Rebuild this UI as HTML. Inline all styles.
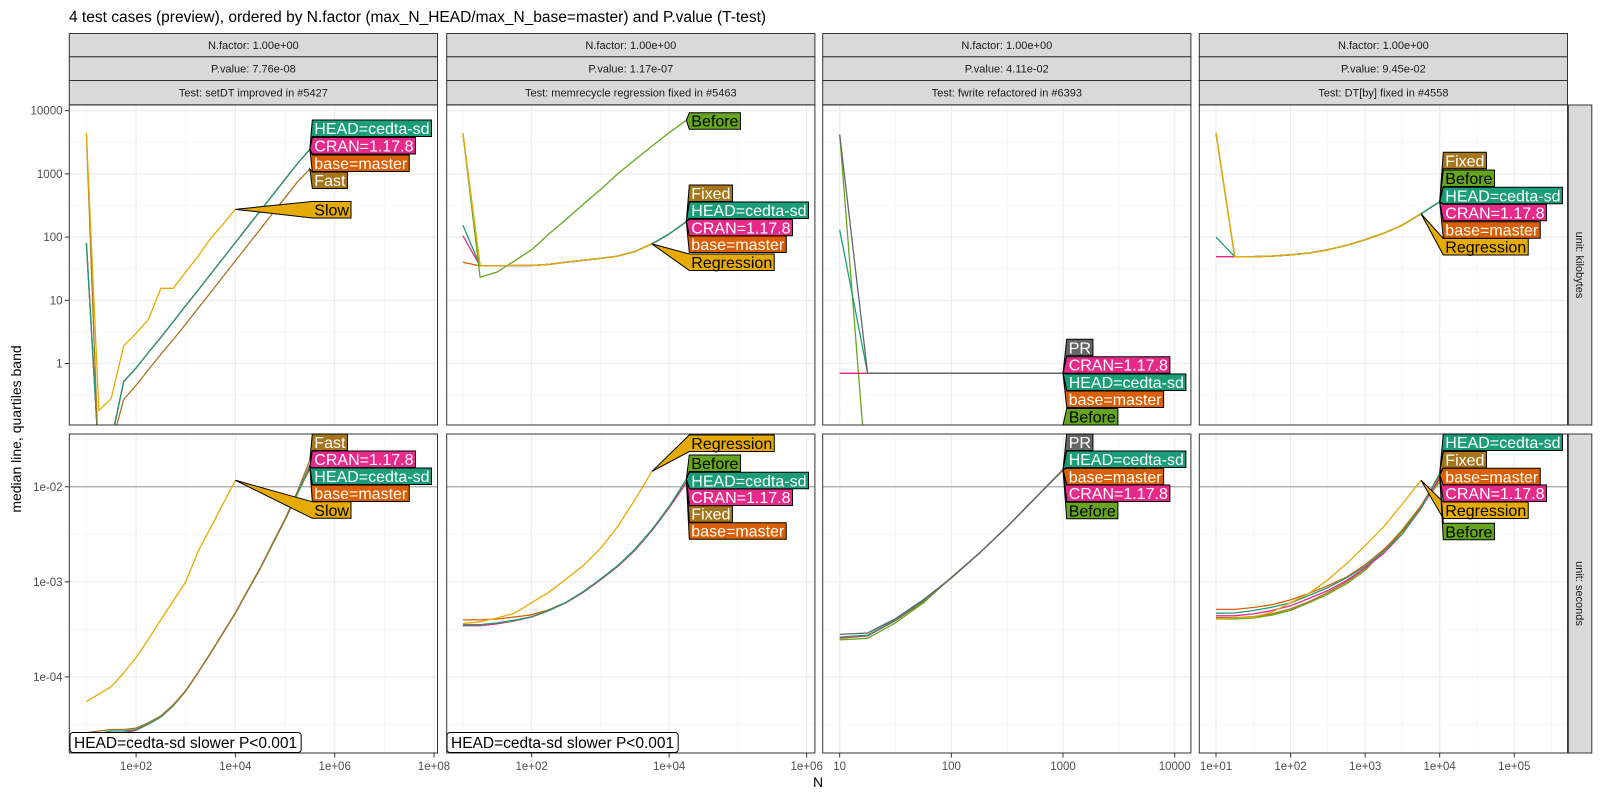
<!DOCTYPE html>
<html><head><meta charset="utf-8"><style>
html,body{margin:0;padding:0;background:#fff;}
svg{display:block;font-family:"Liberation Sans",sans-serif;}
</style></head>
<body>
<svg id="chart" width="1600" height="800" viewBox="0 0 1600 800" xmlns="http://www.w3.org/2000/svg">
<text x="69" y="22" font-size="15.5" fill="#000">4 test cases (preview), ordered by N.factor (max_N_HEAD/max_N_base=master) and P.value (T-test)</text>
<text transform="translate(21,429) rotate(-90)" text-anchor="middle" font-size="14" fill="#000">median line, quartiles band</text>
<text x="818" y="787" text-anchor="middle" font-size="14" fill="#000">N</text>
</svg>
<script>
// ---- data ----
const N1 = [10,17.8,31.6,56.2,100,178,316,562,1000,1780,3160,5620,10000,17800,31600,56200,100000,178000,316000];
const N2 = [10,17.8,31.6,56.2,100,178,316,562,1000,1780,3160,5620,10000,17800];
const N3 = [10,17.8,31.6,56.2,100,178,316,562,1000];
const N4 = [10,17.8,31.6,56.2,100,178,316,562,1000,1780,3160,5620,10000];

const p1kbBase = [80,0.03,0.06,0.52,0.85,1.5,2.6,4.6,8.2,14.5,26,46,82,146,260,460,820,1460,2450];
const p1kbCran = [80,0.03,0.06,0.52,0.85,1.5,2.6,4.6,8.2,14.5,26,46,82,146,260,460,820,1460,2450];
const p1kbHead = [80,0.03,0.06,0.52,0.85,1.5,2.6,4.6,8.2,14.5,26,46,82,146,260,460,820,1460,2450];
const p1kbFast = [4400,0.02,0.05,0.27,0.45,0.8,1.4,2.4,4.2,7.5,13.3,23.7,42,75,133,237,420,750,1200];
const p1kbSlow = [4400,0.18,0.28,1.9,3.0,5.0,15.5,15.5,28,50,95,160,275];

const p1sBase = [2.45e-5,2.5e-5,2.6e-5,2.6e-5,2.75e-5,3.2e-5,3.8e-5,5.0e-5,7.1e-5,1.12e-4,1.78e-4,2.9e-4,4.7e-4,8.1e-4,1.38e-3,2.5e-3,4.5e-3,8.5e-3,1.55e-2];
const p1sCran = [2.5e-5,2.5e-5,2.6e-5,2.6e-5,2.75e-5,3.2e-5,3.8e-5,5.0e-5,7.1e-5,1.12e-4,1.78e-4,2.9e-4,4.7e-4,8.1e-4,1.38e-3,2.5e-3,4.5e-3,8.5e-3,1.7e-2];
const p1sHead = [2.5e-5,2.55e-5,2.7e-5,2.7e-5,2.8e-5,3.2e-5,3.8e-5,5.0e-5,7.1e-5,1.12e-4,1.78e-4,2.9e-4,4.7e-4,8.1e-4,1.38e-3,2.5e-3,4.5e-3,8.5e-3,1.62e-2];
const p1sFast = [2.6e-5,2.7e-5,2.8e-5,2.8e-5,2.9e-5,3.3e-5,3.9e-5,5.1e-5,7.2e-5,1.12e-4,1.78e-4,2.9e-4,4.7e-4,8.2e-4,1.4e-3,2.55e-3,4.6e-3,9.0e-3,1.9e-2];
const p1sSlow = [5.5e-5,6.6e-5,7.9e-5,1.1e-4,1.6e-4,2.5e-4,4.0e-4,6.3e-4,1.0e-3,2.1e-3,3.7e-3,6.6e-3,1.17e-2];

const p2kbCommon = [4400,35,35,35.5,35.5,37,40,43,46,50,59,78,112,175];
const p2kbHead = [155,35,35,35.5,35.5,37,40,43,46,50,59,78,112,175];
const p2kbCran = [105,35,35,35.5,35.5,37,40,43,46,50,59,78,112,175];
const p2kbBase = [40,35,35,35.5,35.5,37,40,43,46,50,59,78,112,175];
const p2kbBefore = [4400,23,28,42,63,112,190,330,560,1000,1660,2750,4470,7080];
const p2kbReg = [4400,35,35,35.5,35.5,37,40,43,46,50,59,78];

const p2sCommon = [3.47e-4,3.47e-4,3.63e-4,3.89e-4,4.27e-4,5.0e-4,6.03e-4,7.76e-4,1.05e-3,1.45e-3,2.14e-3,3.47e-3,6.03e-3,1.12e-2];
const p2sBase = [3.98e-4,3.98e-4,4.07e-4,4.27e-4,4.5e-4,5.1e-4,6.1e-4,7.8e-4,1.05e-3,1.45e-3,2.14e-3,3.47e-3,6.03e-3,1.1e-2];
const p2sHead = [3.55e-4,3.55e-4,3.7e-4,3.95e-4,4.3e-4,5.0e-4,6.1e-4,7.9e-4,1.07e-3,1.48e-3,2.2e-3,3.55e-3,6.2e-3,1.2e-2];
const p2sReg = [3.63e-4,3.8e-4,4.17e-4,4.68e-4,6.03e-4,7.76e-4,1.07e-3,1.48e-3,2.24e-3,3.8e-3,7.24e-3,1.45e-2];

const p3kbPR = [4200,0.7,0.7,0.7,0.7,0.7,0.7,0.7,0.7];
const p3kbHead = [130,0.7,0.7,0.7,0.7,0.7,0.7,0.7,0.7];
const p3kbCran = [0.7,0.7,0.7,0.7,0.7,0.7,0.7,0.7,0.7];
const p3kbBase = [0.7,0.7,0.7,0.7,0.7,0.7,0.7,0.7,0.7];
const p3kbBefore = [4200,0.01,0.01,0.01,0.01,0.01,0.01,0.01,0.01];

const p3sPR = [2.8e-4,2.9e-4,4.1e-4,6.5e-4,1.1e-3,2.0e-3,3.8e-3,7.59e-3,1.5e-2];
const p3sHead = [2.63e-4,2.75e-4,3.98e-4,6.31e-4,1.1e-3,2.0e-3,3.8e-3,7.59e-3,1.51e-2];
const p3sCran = [2.6e-4,2.7e-4,3.95e-4,6.3e-4,1.1e-3,2.0e-3,3.8e-3,7.59e-3,1.51e-2];
const p3sBase = [2.55e-4,2.7e-4,3.9e-4,6.2e-4,1.1e-3,2.0e-3,3.8e-3,7.59e-3,1.52e-2];
const p3sBefore = [2.45e-4,2.55e-4,3.7e-4,6.0e-4,1.12e-3,2.0e-3,3.8e-3,7.59e-3,1.5e-2];

const p4kbCommon = [4400,49,49,50,52.5,56,63,74,91,115,155,234,363];
const p4kbHead = [100,49,49,50,52.5,56,63,74,91,115,155,234,363];
const p4kbBase = [49,49,49,50,52.5,56,63,74,91,115,155,234,363];
const p4kbReg = [4400,49,49,50,52.5,56,63,74,91,115,155,234];

const p4sBase = [5.13e-4,5.13e-4,5.37e-4,5.75e-4,6.46e-4,7.59e-4,9.12e-4,1.12e-3,1.51e-3,2.19e-3,3.39e-3,6.31e-3,1.32e-2];
const p4sHead = [4.68e-4,4.7e-4,5.0e-4,5.4e-4,6.0e-4,7.2e-4,8.7e-4,1.1e-3,1.45e-3,2.1e-3,3.2e-3,6.0e-3,1.38e-2];
const p4sCran = [4.4e-4,4.4e-4,4.6e-4,5.0e-4,5.6e-4,6.7e-4,8.1e-4,1.03e-3,1.4e-3,2.0e-3,3.2e-3,5.9e-3,1.25e-2];
const p4sFixed = [4.2e-4,4.2e-4,4.3e-4,4.6e-4,5.2e-4,6.2e-4,7.7e-4,1.0e-3,1.38e-3,2.1e-3,3.4e-3,6.2e-3,1.2e-2];
const p4sBefore = [4.07e-4,4.07e-4,4.17e-4,4.47e-4,5.01e-4,6.03e-4,7.41e-4,9.55e-4,1.32e-3,2.14e-3,3.55e-3,6.31e-3,1.12e-2];
const p4sReg = [4.07e-4,4.17e-4,4.27e-4,4.79e-4,6.03e-4,7.59e-4,1.05e-3,1.55e-3,2.4e-3,3.8e-3,6.61e-3,1.17e-2];

const stripRow1 = ["N.factor: 1.00e+00","N.factor: 1.00e+00","N.factor: 1.00e+00","N.factor: 1.00e+00"];
const stripRow2 = ["P.value: 7.76e-08","P.value: 1.17e-07","P.value: 4.11e-02","P.value: 9.45e-02"];
const stripRow3 = ["Test: setDT improved in #5427","Test: memrecycle regression fixed in #5463","Test: fwrite refactored in #6393","Test: DT[by] fixed in #4558"];
const topTicks = [10000,1000,100,10,1];
const topTickLabels = ["10000","1000","100","10","1"];
const botTicks = [1e-2,1e-3,1e-4];
const botTickLabels = ["1e-02","1e-03","1e-04"];
const xTicks1 = [1e2,1e4,1e6,1e8];
const xTickLabels1 = ["1e+02","1e+04","1e+06","1e+08"];
const xTicks2 = [1e2,1e4,1e6];
const xTickLabels2 = ["1e+02","1e+04","1e+06"];
const xTicks3 = [10,100,1000,10000];
const xTickLabels3 = ["10","100","1000","10000"];
const xTicks4 = [1e1,1e2,1e3,1e4,1e5];
const xTickLabels4 = ["1e+01","1e+02","1e+03","1e+04","1e+05"];

// ---- layout ----
const C = {head:"#1B9E77",cran:"#E7298A",base:"#D95F02",fast:"#A6761D",slow:"#E6AB02",before:"#66A61E",pr:"#666666"};
const PL = [69.3,446.7,822.7,1199.3], PW = 368.2;
const XD = [[0.655,8.07],[0.765,6.12],[0.848,4.145],[0.776,5.714]];
const XMAJ = [[2,4,6,8],[2,4,6],[1,2,3,4],[1,2,3,4,5]];
const XMIN = [[1,3,5,7],[1,3,5],[1.5,2.5,3.5],[1.5,2.5,3.5,4.5,5.5]];
const ROWS = [{top:105,bot:425,d:[-0.973,4.09],maj:[0,1,2,3,4],min:[-0.5,0.5,1.5,2.5,3.5]},
              {top:434,bot:753,d:[-4.80,-1.445],maj:[-4,-3,-2],min:[-4.5,-3.5,-2.5,-1.5]}];
const svg = document.getElementById('chart');
const NS = "http://www.w3.org/2000/svg";
function mk(tag, attrs, parent){const e=document.createElementNS(NS,tag);for(const k in attrs)e.setAttribute(k,attrs[k]);(parent||svg).appendChild(e);return e;}
function xs(p,v){const d=XD[p];return PL[p]+(Math.log10(v)-d[0])/(d[1]-d[0])*PW;}
function xl(p,l){const d=XD[p];return PL[p]+(l-d[0])/(d[1]-d[0])*PW;}
function ys(r,v){const R=ROWS[r];return R.bot-(Math.log10(v)-R.d[0])/(R.d[1]-R.d[0])*(R.bot-R.top);}
function yl(r,l){const R=ROWS[r];return R.bot-(l-R.d[0])/(R.d[1]-R.d[0])*(R.bot-R.top);}

const defs = mk('defs',{});
for(let p=0;p<4;p++)for(let r=0;r<2;r++){
  const cp=mk('clipPath',{id:'cp'+p+r},defs);
  mk('rect',{x:PL[p],y:ROWS[r].top,width:PW,height:ROWS[r].bot-ROWS[r].top},cp);
}

const stripRows=[stripRow1,stripRow2,stripRow3];
const stripY=[[33.5,56.8],[56.8,80.5],[80.5,104.8]];
for(let p=0;p<4;p++)for(let s=0;s<3;s++){
  const g=mk('g',{});
  
  
  mk('rect',{x:PL[p],y:stripY[s][0],width:PW,height:stripY[s][1]-stripY[s][0],fill:'#D9D9D9',stroke:'#333',"stroke-width":'1'},g);
  const t=mk('text',{x:PL[p]+PW/2,y:(stripY[s][0]+stripY[s][1])/2+4,'text-anchor':'middle','font-size':'11',fill:'#1A1A1A'},g);
  t.textContent=stripRows[s][p];
}
const rsText=['unit: kilobytes','unit: seconds'];
for(let r=0;r<2;r++){
  const g=mk('g',{});
  
  
  const R=ROWS[r];
  mk('rect',{x:1568.3,y:R.top,width:23.5,height:R.bot-R.top,fill:'#D9D9D9',stroke:'#333',"stroke-width":'1'},g);
  const cy=(R.top+R.bot)/2;
  const t=mk('text',{transform:'translate(1576,'+cy+') rotate(90)','text-anchor':'middle','font-size':'11',fill:'#1A1A1A'},g);
  t.textContent=rsText[r];
}

for(let p=0;p<4;p++)for(let r=0;r<2;r++){
  const R=ROWS[r];
  const g=mk('g',{});
  
  
  mk('rect',{x:PL[p],y:R.top,width:PW,height:R.bot-R.top,fill:'#fff'},g);
  for(const l of R.min) mk('line',{x1:PL[p],x2:PL[p]+PW,y1:yl(r,l),y2:yl(r,l),stroke:'#F3F3F3','stroke-width':'0.6'},g);
  for(const l of XMIN[p]) mk('line',{x1:xl(p,l),x2:xl(p,l),y1:R.top,y2:R.bot,stroke:'#F3F3F3','stroke-width':'0.6'},g);
  for(const l of R.maj) mk('line',{x1:PL[p],x2:PL[p]+PW,y1:yl(r,l),y2:yl(r,l),stroke:'#EBEBEB','stroke-width':'1.1'},g);
  for(const l of XMAJ[p]) mk('line',{x1:xl(p,l),x2:xl(p,l),y1:R.top,y2:R.bot,stroke:'#EBEBEB','stroke-width':'1.1'},g);
  if(r===1){const hl=mk('line',{x1:PL[p],x2:PL[p]+PW,y1:ys(1,0.01),y2:ys(1,0.01),stroke:'#A8A8A8','stroke-width':'1.2'},g);
    
    }
}

function series(p,r,xsArr,vals,color,name){
  const pts=vals.map((v,i)=>xs(p,xsArr[i]).toFixed(1)+','+ys(r,v).toFixed(1)).join(' ');
  const pl=mk('polyline',{points:pts,fill:'none',stroke:color,'stroke-width':'1.3','clip-path':'url(#cp'+p+r+')','stroke-linejoin':'round'});
  
  
  return {x:xs(p,xsArr[vals.length-1]),y:ys(r,vals[vals.length-1])};
}

function label(p,r,anchor,text,fill,tcol,top,bx){
  const R=ROWS[r];
  const ay=Math.min(Math.max(anchor.y,R.top),R.bot);
  const g=mk('g',{});
  
  
  const path=mk('path',{fill:fill,stroke:'#000','stroke-width':'1'},g);
  const t=mk('text',{x:bx+2,y:top+14,'font-size':'16',fill:tcol},g);
  t.textContent=text;
  const w=t.getComputedTextLength()+4, h=16.5;
  path.setAttribute('d','M'+anchor.x+','+ay+' L'+bx+','+top+' L'+(bx+w)+','+top+' L'+(bx+w)+','+(top+h)+' L'+bx+','+(top+h)+' Z');
}

series(0,0,N1,p1kbBase,C.base,'p1-kb-base-master');
series(0,0,N1,p1kbCran,C.cran,'p1-kb-cran');
let a1h=series(0,0,N1,p1kbHead,C.head,'p1-kb-head');
let a1f=series(0,0,N1,p1kbFast,C.fast,'p1-kb-fast');
let a1s=series(0,0,N1,p1kbSlow,C.slow,'p1-kb-slow');
series(0,1,N1,p1sBase,C.base,'p1-s-base-master');
series(0,1,N1,p1sCran,C.cran,'p1-s-cran');
let b1h=series(0,1,N1,p1sHead,C.head,'p1-s-head');
let b1f=series(0,1,N1,p1sFast,C.fast,'p1-s-fast');
let b1s=series(0,1,N1,p1sSlow,C.slow,'p1-s-slow');
let a2f=series(1,0,N2,p2kbCommon,C.fast,'p2-kb-fixed');
series(1,0,N2,p2kbBase,C.base,'p2-kb-base-master');
series(1,0,N2,p2kbCran,C.cran,'p2-kb-cran');
let a2h=series(1,0,N2,p2kbHead,C.head,'p2-kb-head');
let a2b=series(1,0,N2,p2kbBefore,C.before,'p2-kb-before');
let a2r=series(1,0,N2,p2kbReg,C.slow,'p2-kb-regression');
series(1,1,N2,p2sBase,C.base,'p2-s-base-master');
series(1,1,N2,p2sCommon,C.before,'p2-s-before');
series(1,1,N2,p2sCommon,C.fast,'p2-s-fixed');
series(1,1,N2,p2sCommon,C.cran,'p2-s-cran');
let b2h=series(1,1,N2,p2sHead,C.head,'p2-s-head');
let b2r=series(1,1,N2,p2sReg,C.slow,'p2-s-regression');
let a3b=series(2,0,N3,p3kbBefore,C.before,'p3-kb-before');
series(2,0,N3,p3kbBase,C.base,'p3-kb-base-master');
series(2,0,N3,p3kbCran,C.cran,'p3-kb-cran');
let a3h=series(2,0,N3,p3kbHead,C.head,'p3-kb-head');
let a3p=series(2,0,N3,p3kbPR,C.pr,'p3-kb-pr');
series(2,1,N3,p3sBefore,C.before,'p3-s-before');
series(2,1,N3,p3sBase,C.base,'p3-s-base-master');
series(2,1,N3,p3sCran,C.cran,'p3-s-cran');
let b3h=series(2,1,N3,p3sHead,C.head,'p3-s-head');
series(2,1,N3,p3sPR,C.pr,'p3-s-pr');
series(3,0,N4,p4kbBase,C.base,'p4-kb-base-master');
series(3,0,N4,p4kbBase,C.cran,'p4-kb-cran');
series(3,0,N4,p4kbCommon,C.before,'p4-kb-before');
series(3,0,N4,p4kbCommon,C.fast,'p4-kb-fixed');
let a4h=series(3,0,N4,p4kbHead,C.head,'p4-kb-head');
let a4r=series(3,0,N4,p4kbReg,C.slow,'p4-kb-regression');
series(3,1,N4,p4sBefore,C.before,'p4-s-before');
series(3,1,N4,p4sFixed,C.fast,'p4-s-fixed');
series(3,1,N4,p4sCran,C.cran,'p4-s-cran');
let b4b=series(3,1,N4,p4sBase,C.base,'p4-s-base-master');
let b4h=series(3,1,N4,p4sHead,C.head,'p4-s-head');
let b4r=series(3,1,N4,p4sReg,C.slow,'p4-s-regression');

for(let p=0;p<4;p++)for(let r=0;r<2;r++){
  const R=ROWS[r];
  const b=mk('rect',{x:PL[p],y:R.top,width:PW,height:R.bot-R.top,fill:'none',stroke:'#333','stroke-width':'1'});
  
  
}

const W='#fff',K='#000';
label(0,0,a1h,'HEAD=cedta-sd',C.head,W,120,312.3);
label(0,0,a1h,'CRAN=1.17.8',C.cran,W,137.5,312.3);
label(0,0,a1h,'base=master',C.base,W,155,312.3);
label(0,0,a1f,'Fast',C.fast,W,172,312.3);
label(0,0,a1s,'Slow',C.slow,K,201.5,312.3);
label(0,1,b1f,'Fast',C.fast,W,434,312.3);
label(0,1,b1h,'CRAN=1.17.8',C.cran,W,451,312.3);
label(0,1,b1h,'HEAD=cedta-sd',C.head,W,468,312.3);
label(0,1,b1h,'base=master',C.base,W,485,312.3);
label(0,1,b1s,'Slow',C.slow,K,501.8,312.3);

label(1,0,a2b,'Before',C.before,K,112.7,689.3);
label(1,0,a2f,'Fixed',C.fast,W,185,689.3);
label(1,0,a2h,'HEAD=cedta-sd',C.head,W,202,689.3);
label(1,0,a2h,'CRAN=1.17.8',C.cran,W,219.3,689.3);
label(1,0,a2h,'base=master',C.base,W,236,689.3);
label(1,0,a2r,'Regression',C.slow,K,254,689.3);
label(1,1,b2r,'Regression',C.slow,K,435,689.3);
label(1,1,b2h,'Before',C.before,K,455,689.3);
label(1,1,b2h,'HEAD=cedta-sd',C.head,W,472.3,689.3);
label(1,1,b2h,'CRAN=1.17.8',C.cran,W,489,689.3);
label(1,1,b2h,'Fixed',C.fast,W,505.7,689.3);
label(1,1,b2h,'base=master',C.base,W,522.7,689.3);

label(2,0,a3p,'PR',C.pr,W,339.3,1066.7);
label(2,0,a3h,'CRAN=1.17.8',C.cran,W,356.7,1066.7);
label(2,0,a3h,'HEAD=cedta-sd',C.head,W,374,1066.7);
label(2,0,a3h,'base=master',C.base,W,391,1066.7);
label(2,0,a3b,'Before',C.before,K,408.5,1066.7);
label(2,1,b3h,'PR',C.pr,W,434,1066.7);
label(2,1,b3h,'HEAD=cedta-sd',C.head,W,451,1066.7);
label(2,1,b3h,'base=master',C.base,W,468.3,1066.7);
label(2,1,b3h,'CRAN=1.17.8',C.cran,W,485,1066.7);
label(2,1,b3h,'Before',C.before,K,502.3,1066.7);

label(3,0,a4h,'Fixed',C.fast,W,152.3,1443.3);
label(3,0,a4h,'Before',C.before,K,170,1443.3);
label(3,0,a4h,'HEAD=cedta-sd',C.head,W,187.3,1443.3);
label(3,0,a4h,'CRAN=1.17.8',C.cran,W,204.3,1443.3);
label(3,0,a4h,'base=master',C.base,W,221.7,1443.3);
label(3,0,a4r,'Regression',C.slow,K,238.5,1443.3);
label(3,1,b4h,'HEAD=cedta-sd',C.head,W,434,1443.3);
label(3,1,b4h,'Fixed',C.fast,W,451.5,1443.3);
label(3,1,b4b,'base=master',C.base,W,468.3,1443.3);
label(3,1,b4b,'CRAN=1.17.8',C.cran,W,485,1443.3);
label(3,1,b4r,'Regression',C.slow,K,502,1443.3);
label(3,1,b4b,'Before',C.before,K,523.3,1443.3);

for(const bx of [70,447]){
  const g=mk('g',{});
  
  
  const rc=mk('rect',{x:bx,y:732.5,width:231,height:20,rx:'3',fill:'#fff',stroke:'#000','stroke-width':'1'},g);
  const t=mk('text',{x:bx+4,y:748,'font-size':'15.5',fill:'#000'},g);
  t.textContent='HEAD=cedta-sd slower P<0.001';
  rc.setAttribute('width',t.getComputedTextLength()+8);
}

function yTicks(r,vals,labs){
  for(let i=0;i<vals.length;i++){
    const y=ys(r,vals[i]);
    const tk=mk('line',{x1:64.8,x2:69.3,y1:y,y2:y,stroke:'#333','stroke-width':'1'});
    
    
    const t=mk('text',{x:62.5,y:y+4,'text-anchor':'end','font-size':'11.5',fill:'#4D4D4D'});
    
    
    t.textContent=labs[i];
  }
}
yTicks(0,topTicks,topTickLabels);
yTicks(1,botTicks,botTickLabels);
const XT=[[xTicks1,xTickLabels1],[xTicks2,xTickLabels2],[xTicks3,xTickLabels3],[xTicks4,xTickLabels4]];
for(let p=0;p<4;p++){
  for(let i=0;i<XT[p][0].length;i++){
    const x=xs(p,XT[p][0][i]);
    const tk=mk('line',{x1:x,x2:x,y1:753,y2:757.5,stroke:'#333','stroke-width':'1'});
    
    
    const t=mk('text',{x:x,y:770,'text-anchor':'middle','font-size':'11.5',fill:'#4D4D4D'});
    
    
    t.textContent=XT[p][1][i];
  }
}
</script>
</body></html>
